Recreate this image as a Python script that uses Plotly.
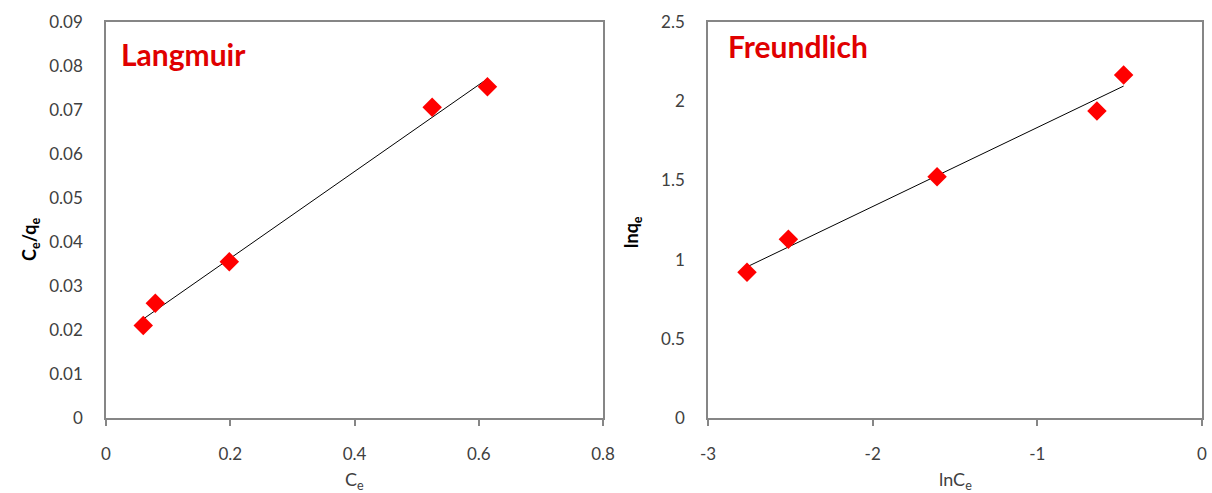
import numpy as np
import plotly.graph_objects as go

# Langmuir data
ce = [0.060, 0.0794, 0.1985, 0.525, 0.614]
ce_qe = [0.0210, 0.0261, 0.0355, 0.0706, 0.0753]

# Freundlich data
ln_ce = [-2.763, -2.512, -1.609, -0.638, -0.476]
ln_qe = [0.920, 1.128, 1.523, 1.938, 2.165]

left_xticks = [0, 0.2, 0.4, 0.6, 0.8]
left_yticks = [0, 0.01, 0.02, 0.03, 0.04, 0.05, 0.06, 0.07, 0.08, 0.09]
right_xticks = [-3, -2, -1, 0]
right_yticks = [0, 0.5, 1, 1.5, 2, 2.5]

W, H = 1212, 493
FONT = "Lato"
TICKC = "#404040"
AXC = "#868686"

def fit(x, y):
    m, b = np.polyfit(x, y, 1)
    xs = np.array([min(x), max(x)])
    return xs, m * xs + b

fig = go.Figure()

lx, ly = fit(ce, ce_qe)
fig.add_trace(go.Scatter(x=lx, y=ly, mode="lines", line=dict(color="black", width=1),
                         xaxis="x", yaxis="y", showlegend=False))
fig.add_trace(go.Scatter(x=ce, y=ce_qe, mode="markers",
                         marker=dict(symbol="diamond", color="#ff0000", size=15),
                         xaxis="x", yaxis="y", showlegend=False))

rx, ry = fit(ln_ce, ln_qe)
fig.add_trace(go.Scatter(x=rx, y=ry, mode="lines", line=dict(color="black", width=1),
                         xaxis="x2", yaxis="y2", showlegend=False))
fig.add_trace(go.Scatter(x=ln_ce, y=ln_qe, mode="markers",
                         marker=dict(symbol="diamond", color="#ff0000", size=15),
                         xaxis="x2", yaxis="y2", showlegend=False))

ydom = [1 - 418 / H, 1 - 22 / H]

common_x = dict(showgrid=False, zeroline=False, showline=True, linecolor=AXC, linewidth=1.5,
                mirror=True, ticks="outside", ticklen=6, tickcolor=AXC, tickwidth=1.5,
                tickfont=dict(family=FONT, size=17, color=TICKC), ticklabelstandoff=14,
                automargin=False)
common_y = dict(showgrid=False, zeroline=False, showline=True, linecolor=AXC, linewidth=1.5,
                mirror=True, ticks="", tickfont=dict(family=FONT, size=17, color=TICKC),
                ticklabelstandoff=18, automargin=False)

fig.update_layout(
    width=W, height=H, margin=dict(l=0, r=0, t=0, b=0),
    paper_bgcolor="white", plot_bgcolor="white",
    xaxis=dict(domain=[106 / W, 603 / W], range=[0, 0.8], tickvals=left_xticks,
               ticktext=[f"{v:g}" for v in left_xticks], anchor="y", **common_x),
    yaxis=dict(domain=ydom, range=[0, 0.09], tickvals=left_yticks,
               ticktext=[f"{v:g}" for v in left_yticks], anchor="x", **common_y),
    xaxis2=dict(domain=[708 / W, 1202 / W], range=[-3, 0], tickvals=right_xticks,
                ticktext=[f"{v:g}" for v in right_xticks], anchor="y2", **common_x),
    yaxis2=dict(domain=ydom, range=[0, 2.5], tickvals=right_yticks,
                ticktext=[f"{v:g}" for v in right_yticks], anchor="x2", **common_y),
    annotations=[
        dict(text="<b>Langmuir</b>", xref="x domain", yref="y domain", x=0.026, y=0.92,
             xanchor="left", yanchor="middle", showarrow=False,
             font=dict(family=FONT, size=30, color="#e00000")),
        dict(text="<b>Freundlich</b>", xref="x2 domain", yref="y2 domain", x=0.036, y=0.94,
             xanchor="left", yanchor="middle", showarrow=False,
             font=dict(family=FONT, size=30, color="#e00000")),
        dict(text="C<sub>e</sub>", xref="x domain", yref="paper", x=0.5, y=1 - 480 / H,
             xanchor="center", yanchor="middle", showarrow=False,
             font=dict(family=FONT, size=18, color=TICKC)),
        dict(text="lnC<sub>e</sub>", xref="x2 domain", yref="paper", x=0.5, y=1 - 480 / H,
             xanchor="center", yanchor="middle", showarrow=False,
             font=dict(family=FONT, size=18, color=TICKC)),
        dict(text="<b>C<sub>e</sub>/q<sub>e</sub></b>", xref="paper", yref="paper",
             x=30 / W, y=1 - 240 / H, xanchor="center", yanchor="middle", textangle=-90,
             showarrow=False, font=dict(family=FONT, size=18, color="black")),
        dict(text="<b>lnq<sub>e</sub></b>", xref="paper", yref="paper",
             x=632 / W, y=1 - 232 / H, xanchor="center", yanchor="middle", textangle=-90,
             showarrow=False, font=dict(family=FONT, size=18, color="black")),
    ],
)

fig.write_html("out.html")
